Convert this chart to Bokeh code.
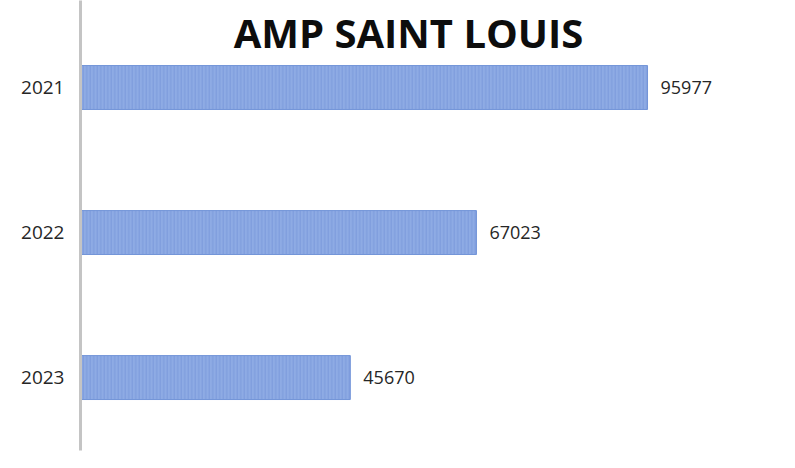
from bokeh.plotting import figure
from bokeh.models import Range1d, FixedTicker, ColumnDataSource, Label, LabelSet
from bokeh.core.properties import value
from bokeh.embed import file_html
from bokeh.resources import INLINE

years = ["2021", "2022", "2023"]
values = [95977, 67023, 45670]
title_text = "AMP SAINT LOUIS"

pos = list(range(len(years)))
src = ColumnDataSource(dict(y=pos, v=values, lab=[str(v) for v in values]))

p = figure(width=790, height=458, output_backend="svg", toolbar_location=None,
           x_range=Range1d(0, 119670), y_range=Range1d(2.503, -0.6),
           min_border_left=80, min_border_right=3, min_border_top=0, min_border_bottom=8)
p.outline_line_color = None
p.xgrid.visible = False
p.ygrid.visible = False
p.xaxis.visible = False
p.background_fill_color = "white"

p.hbar(y="y", right="v", left=0, height=0.303, source=src,
       fill_color="#8eabe4", line_color="#7395d8", line_width=1,
       hatch_pattern="|", hatch_color="#7292d6", hatch_scale=3.5, hatch_weight=1, hatch_alpha=0.7)

labels = LabelSet(x="v", y="y", text="lab", source=src, x_offset=13,
                  text_baseline="middle", text_font=value("Open Sans"),
                  text_font_size=value("18px"), text_color=value("#262626"))
p.add_layout(labels)

ya = p.yaxis[0]
ya.ticker = FixedTicker(ticks=pos)
ya.major_label_overrides = {i: y for i, y in enumerate(years)}
ya.major_tick_line_color = None
ya.minor_tick_line_color = None
ya.axis_line_color = "#c4c4c4"
ya.axis_line_width = 3
ya.major_label_standoff = 10
ya.major_label_text_font = "Open Sans"
ya.major_label_text_font_size = "19px"
ya.major_label_text_color = "#262626"

t = Label(x=328, y=418, x_units="screen", y_units="screen", text=title_text,
          text_align="center", text_baseline="middle", text_font="Open Sans",
          text_font_style="bold", text_font_size="40px", text_color="#0d0d0d")
p.add_layout(t)

open("out.html", "w").write(file_html(p, INLINE))
